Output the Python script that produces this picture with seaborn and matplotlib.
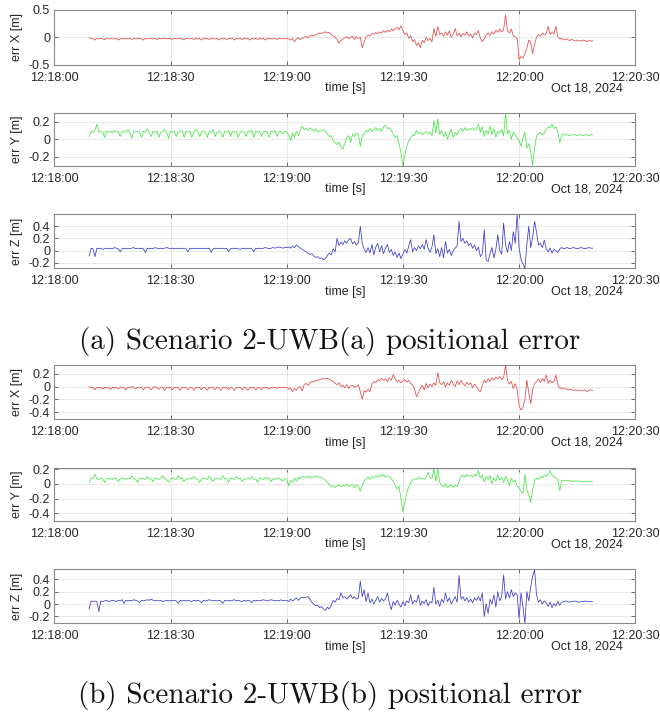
import numpy as np
import pandas as pd
import matplotlib
matplotlib.use("Agg")
import matplotlib.pyplot as plt
import matplotlib.dates as mdates
import seaborn as sns

# ---------------- data (sampled every 0.5 s, starting 12:18:09) ----------------
START = "2024-10-18 12:18:09"
STEP_S = 0.5

# Scenario 2-UWB(a)
err_x_a = [
    0.00,-0.02,-0.03,-0.05,-0.02,-0.03,-0.02,-0.03,-0.04,-0.02,-0.03,-0.02,-0.03,-0.03,-0.02,-0.05,-0.03,-0.02,-0.03,-0.02,
    -0.03,-0.02,-0.04,-0.02,-0.03,-0.02,-0.02,-0.03,-0.05,-0.02,-0.03,-0.02,-0.02,-0.03,-0.02,-0.04,-0.02,-0.03,-0.02,-0.02,
    -0.03,-0.02,-0.02,-0.04,-0.02,-0.03,-0.02,-0.02,-0.03,-0.05,-0.02,-0.03,-0.02,-0.02,-0.04,-0.02,-0.03,-0.02,-0.05,-0.02,
    -0.03,-0.02,-0.04,-0.02,-0.03,-0.03,-0.02,-0.05,-0.02,-0.03,-0.02,-0.04,-0.02,-0.03,-0.02,-0.05,-0.02,-0.03,-0.02,-0.04,
    -0.02,-0.03,-0.02,-0.05,-0.02,-0.03,-0.02,-0.04,-0.02,-0.03,-0.02,-0.05,-0.02,-0.03,-0.02,-0.03,-0.02,-0.04,-0.02,-0.03,
    -0.02,-0.03,
    -0.02,-0.03,-0.05,-0.02,-0.08,-0.03,-0.01,-0.04,-0.02,0.00,0.02,-0.01,0.03,0.04,0.02,0.05,0.06,0.08,0.07,0.09,
    0.10,0.08,0.09,0.05,0.03,0.00,-0.04,-0.11,-0.06,-0.03,-0.01,0.01,-0.03,0.00,0.02,-0.04,0.01,-0.02,0.00,-0.19,
    -0.08,0.01,0.04,0.02,0.07,0.05,0.09,0.06,0.10,0.08,0.12,0.09,0.13,0.10,0.15,0.12,0.16,0.18,0.14,0.21,
    0.12,0.05,0.08,-0.02,0.03,-0.08,-0.04,-0.15,-0.10,-0.19,-0.05,-0.10,0.00,-0.06,-0.02,-0.08,0.16,0.02,0.20,0.05,
    0.08,0.02,0.10,0.04,0.12,0.00,0.06,0.16,0.03,0.08,0.01,0.07,0.04,0.10,0.02,0.06,-0.01,0.08,0.05,0.12,
    -0.02,-0.08,-0.03,0.04,0.08,0.03,0.10,0.06,0.13,0.09,0.15,0.10,0.14,0.41,0.12,0.08,0.15,0.03,0.00,-0.02,
    -0.41,-0.35,-0.38,-0.30,-0.20,-0.05,-0.10,-0.30,-0.12,0.00,0.05,0.02,0.08,0.04,0.07,0.20,0.05,0.10,0.06,0.20,
    0.00,-0.03,-0.02,-0.05,-0.03,-0.04,-0.06,-0.04,-0.05,-0.07,-0.05,-0.06,-0.07,-0.05,-0.06,-0.08,-0.06,-0.07,-0.06,
]
err_y_a = [
    0.03,0.09,0.08,0.10,0.17,0.08,0.09,0.08,0.02,0.09,0.08,0.09,0.07,0.10,0.08,0.09,0.03,0.08,0.09,0.08,
    0.11,0.08,0.01,0.09,0.08,0.09,0.08,0.02,0.09,0.08,0.12,0.08,0.03,0.09,0.08,0.09,0.02,0.08,0.09,0.11,
    0.08,0.01,0.09,0.08,0.09,0.03,0.08,0.09,0.10,0.02,0.09,0.08,0.09,0.02,0.08,0.11,0.09,0.03,0.08,0.09,
    0.08,0.02,0.09,0.08,0.11,0.03,0.08,0.09,0.08,0.02,0.09,0.08,0.10,0.03,0.09,0.08,0.09,0.02,0.08,0.09,
    0.08,0.03,0.09,0.08,0.10,0.02,0.09,0.08,0.09,0.03,0.08,0.09,0.08,0.02,0.09,0.08,0.10,0.03,0.08,0.09,
    0.06,0.09,
    0.08,0.05,-0.02,0.07,0.02,0.09,0.04,0.10,0.15,0.11,0.12,0.10,0.13,0.11,0.09,0.12,0.08,0.10,0.09,0.11,
    0.09,0.06,0.03,0.04,-0.02,-0.04,-0.06,-0.03,-0.09,-0.11,-0.05,0.02,0.04,-0.04,0.06,0.03,0.07,0.05,-0.08,0.04,
    0.06,0.10,0.08,0.12,0.09,0.11,0.13,0.10,0.12,0.09,0.14,0.16,0.12,0.13,0.10,0.06,0.02,0.04,-0.05,-0.15,
    -0.30,-0.18,-0.08,-0.02,0.02,0.05,0.04,0.10,0.06,0.08,0.05,0.07,0.09,0.06,0.08,0.04,0.21,0.07,0.23,0.05,
    0.10,0.03,0.08,0.00,0.06,0.11,0.02,0.08,0.05,0.10,0.12,0.09,0.13,0.10,0.12,0.11,0.13,0.10,0.12,0.17,
    0.08,0.14,0.03,0.10,0.06,0.15,0.05,0.12,0.02,0.09,0.07,0.11,0.04,0.29,0.06,0.10,0.00,0.08,0.05,0.02,
    -0.02,-0.08,0.02,0.08,-0.10,-0.05,-0.15,-0.29,-0.10,0.04,0.06,0.08,0.05,0.07,0.11,0.14,0.13,0.17,0.12,0.14,
    0.08,-0.04,0.05,0.06,0.05,0.05,0.04,0.05,0.05,0.05,0.04,0.05,0.05,0.04,0.05,0.05,0.04,0.05,0.05,
]
err_z_a = [
    -0.09,0.04,0.03,-0.10,0.04,0.03,0.04,0.02,0.03,0.04,0.03,0.04,0.03,0.05,0.04,0.03,-0.02,0.03,0.04,0.03,
    0.04,0.03,0.04,0.05,0.03,0.04,0.03,0.04,0.03,-0.03,0.04,0.03,0.04,0.03,0.05,0.04,0.03,0.04,0.03,0.04,
    0.05,0.04,0.03,0.04,0.03,0.04,0.03,0.04,0.03,0.04,0.03,-0.02,0.04,0.03,0.04,0.03,0.04,0.03,0.04,0.03,
    0.04,0.03,0.04,-0.03,0.03,0.04,0.03,0.04,0.03,0.04,0.03,0.04,-0.02,0.03,0.04,0.03,0.04,0.03,0.02,0.04,
    0.03,0.04,0.03,0.04,0.03,-0.02,0.04,0.03,0.04,0.03,0.04,0.05,0.04,0.03,0.04,0.05,0.04,0.05,0.06,0.05,
    0.04,0.05,
    0.05,0.06,0.04,0.07,0.05,0.09,0.07,0.04,0.02,0.00,-0.02,-0.04,-0.06,-0.05,-0.09,-0.11,-0.10,-0.13,-0.12,-0.15,
    -0.13,-0.08,-0.04,-0.07,0.03,-0.02,0.20,0.08,0.14,0.10,0.16,0.12,0.18,0.20,0.11,0.15,0.09,0.13,0.40,0.12,
    0.02,-0.03,0.05,-0.04,0.10,-0.07,0.06,0.12,-0.02,0.08,-0.05,0.04,0.10,-0.03,0.02,-0.08,-0.02,-0.11,-0.04,-0.13,
    -0.06,0.02,-0.04,0.07,0.18,-0.02,0.05,0.00,0.08,0.03,0.10,0.02,0.18,0.04,-0.03,0.06,0.26,-0.05,0.03,-0.10,
    0.05,-0.12,0.15,-0.04,0.02,-0.08,0.00,0.04,0.08,0.48,0.15,0.20,0.12,0.16,0.08,0.12,0.04,0.09,0.00,0.06,
    -0.10,-0.05,0.34,-0.15,-0.18,-0.05,0.05,-0.12,0.02,0.26,0.00,-0.06,0.45,0.10,-0.03,0.15,0.00,0.31,0.12,0.60,
    0.05,-0.15,-0.22,-0.29,0.10,0.40,0.05,0.22,0.48,0.30,0.09,0.12,0.05,0.17,0.03,-0.02,0.04,-0.04,0.02,0.00,
    -0.03,0.03,0.05,0.03,0.04,0.05,0.03,0.04,0.05,0.04,0.03,0.04,0.05,0.04,0.03,0.04,0.05,0.04,0.04,
]

# Scenario 2-UWB(b)
err_x_b = [
    0.00,-0.02,-0.01,-0.05,-0.01,-0.02,-0.01,-0.04,-0.01,-0.02,-0.01,-0.05,-0.01,-0.02,-0.01,-0.04,-0.01,-0.01,-0.02,-0.05,
    -0.01,-0.02,0.00,-0.01,-0.04,-0.01,-0.02,-0.01,-0.05,-0.01,-0.01,-0.02,-0.05,-0.01,0.00,-0.02,-0.04,-0.01,-0.01,-0.06,
    -0.01,-0.02,-0.01,-0.05,-0.01,-0.02,-0.01,-0.06,-0.01,-0.02,-0.01,-0.05,-0.02,-0.01,-0.06,-0.01,-0.02,-0.01,-0.05,-0.01,
    -0.02,-0.06,-0.01,-0.02,-0.01,-0.05,-0.01,-0.02,-0.06,-0.01,-0.02,-0.01,-0.05,-0.01,-0.02,-0.06,-0.01,-0.02,-0.01,-0.05,
    -0.01,-0.02,-0.06,-0.01,-0.02,-0.01,-0.05,-0.01,-0.02,-0.05,-0.01,-0.02,-0.01,-0.04,-0.01,-0.02,-0.01,-0.03,-0.01,-0.02,
    -0.01,-0.02,
    -0.01,-0.04,-0.02,-0.08,-0.03,-0.06,-0.01,0.00,-0.07,0.03,0.05,0.02,0.06,0.08,0.07,0.10,0.09,0.11,0.12,0.13,
    0.12,0.13,0.12,0.10,0.08,0.05,0.03,0.06,0.00,0.02,-0.02,0.03,-0.03,0.01,0.02,-0.01,0.00,0.03,-0.08,-0.20,
    -0.06,-0.09,-0.04,-0.08,0.04,0.08,0.06,0.11,0.09,0.13,0.10,0.12,0.08,0.14,0.10,0.19,0.12,0.08,0.10,0.06,
    0.09,0.11,0.07,0.10,0.05,0.03,-0.04,-0.16,-0.10,-0.03,0.02,-0.05,0.05,-0.02,0.04,0.00,0.06,0.02,0.22,0.06,
    0.03,0.08,-0.01,0.06,0.02,0.10,0.04,0.00,0.09,0.03,0.10,0.05,0.01,0.07,0.03,0.06,-0.02,0.04,0.00,-0.05,
    -0.08,0.02,0.10,0.06,0.12,0.08,0.14,0.10,0.15,0.12,0.16,0.11,0.14,0.34,0.10,0.04,0.08,-0.03,0.05,-0.05,
    -0.30,-0.37,-0.33,-0.20,0.10,-0.10,-0.27,-0.05,0.05,0.08,0.12,0.06,0.13,0.08,0.18,0.05,0.10,0.06,0.08,0.18,
    0.03,-0.03,-0.02,-0.04,-0.03,-0.05,-0.04,-0.05,-0.06,-0.05,-0.06,-0.05,-0.07,-0.06,-0.05,-0.08,-0.06,-0.05,-0.06,
]
err_y_b = [
    0.02,0.08,0.07,0.13,0.07,0.06,0.08,0.07,0.02,0.07,0.08,0.07,0.06,0.08,0.07,0.03,0.07,0.08,0.07,0.06,
    0.08,0.07,0.11,0.07,0.06,0.02,0.07,0.08,0.07,0.06,0.10,0.07,0.07,0.03,0.08,0.07,0.06,0.08,0.11,0.07,
    0.06,0.02,0.07,0.08,0.07,0.06,0.11,0.07,0.08,0.03,0.07,0.06,0.08,0.07,0.10,0.07,0.06,0.02,0.07,0.08,
    0.07,0.06,0.10,0.07,0.03,0.07,0.08,0.07,0.06,0.11,0.07,0.07,0.02,0.08,0.07,0.06,0.10,0.07,0.08,0.03,
    0.07,0.06,0.08,0.07,0.10,0.06,0.07,0.02,0.08,0.07,0.06,0.09,0.07,0.08,0.03,0.07,0.06,0.08,0.07,0.06,
    0.04,0.07,
    0.07,-0.03,0.05,0.02,0.08,0.04,0.09,0.07,0.10,0.08,0.09,0.11,0.08,0.10,0.09,0.11,0.10,0.08,0.09,0.07,
    0.05,0.02,-0.01,-0.04,-0.02,-0.05,-0.03,-0.01,-0.04,-0.02,-0.03,0.00,-0.04,-0.02,-0.01,-0.05,-0.02,-0.03,-0.10,-0.02,
    0.04,0.07,0.09,0.06,0.10,0.08,0.11,0.09,0.12,0.10,0.13,0.09,0.11,0.10,0.07,0.04,-0.02,-0.07,-0.03,-0.20,
    -0.38,-0.25,-0.12,-0.04,0.02,0.05,0.07,0.06,0.09,0.07,0.08,0.06,0.09,0.16,0.08,0.07,0.20,0.04,0.20,0.02,
    -0.02,-0.04,0.00,-0.05,-0.03,-0.01,-0.05,-0.02,-0.04,0.03,0.10,0.12,0.09,0.13,0.10,0.12,0.09,0.13,0.11,0.18,
    0.08,0.12,0.03,0.10,0.06,0.11,0.00,0.08,0.04,0.12,0.05,0.09,0.02,0.10,0.06,-0.02,0.08,0.03,0.05,-0.03,
    -0.05,-0.10,-0.13,0.13,-0.08,-0.15,-0.25,-0.08,0.04,0.08,0.06,0.10,0.08,0.12,0.11,0.13,0.18,0.12,0.10,0.08,
    0.06,-0.09,0.04,0.05,0.04,0.05,0.04,0.04,0.03,0.04,0.04,0.03,0.04,0.03,0.03,0.04,0.03,0.03,0.03,
]
err_z_b = [
    -0.08,0.05,0.04,0.05,0.04,-0.12,0.05,0.04,0.05,0.06,0.04,0.05,0.06,0.05,0.04,0.06,0.05,0.07,0.01,0.06,
    0.05,0.06,0.05,0.07,0.06,0.05,0.02,0.06,0.05,0.06,0.07,0.06,0.08,0.06,0.05,0.06,0.05,0.06,0.04,0.05,
    0.06,0.05,0.06,0.05,0.06,0.05,0.01,0.06,0.05,0.06,0.05,0.06,0.05,0.04,0.06,0.05,0.06,0.05,0.02,0.06,
    0.05,0.06,0.07,0.06,0.05,0.06,0.05,0.06,0.05,0.01,0.06,0.05,0.06,0.05,0.06,0.07,0.05,0.06,0.05,0.04,
    0.06,0.05,0.06,0.05,0.02,0.06,0.05,0.06,0.05,0.06,0.07,0.06,0.05,0.06,0.07,0.06,0.05,0.06,0.05,0.07,
    0.05,0.06,
    0.06,0.04,0.08,0.05,0.07,0.10,0.06,0.09,0.11,0.10,0.11,0.12,0.08,0.03,0.00,-0.03,-0.02,-0.06,-0.04,-0.08,
    -0.10,-0.05,-0.08,-0.02,0.06,0.03,0.09,0.07,0.18,0.10,0.12,0.08,0.11,0.15,0.09,0.12,0.08,0.10,0.37,0.12,
    0.23,0.04,0.18,0.02,0.08,0.00,0.06,0.12,0.03,0.09,0.05,0.08,0.18,0.02,-0.09,0.04,-0.02,0.06,0.00,-0.05,
    0.04,-0.03,0.05,0.02,0.15,0.00,0.06,0.03,0.15,-0.02,0.05,0.01,0.07,-0.03,0.04,0.02,0.27,0.00,0.06,-0.04,
    0.08,0.02,0.18,0.04,0.10,0.00,0.06,0.12,0.03,0.46,0.08,0.12,0.05,0.10,0.03,0.08,0.02,0.10,0.06,0.12,
    0.05,0.18,-0.20,0.00,-0.15,0.08,0.00,0.15,-0.05,0.20,0.05,0.12,0.47,0.08,0.20,0.10,0.23,0.12,0.18,0.15,
    -0.23,0.18,-0.05,-0.31,0.20,0.05,0.28,0.45,0.55,0.15,0.03,0.07,0.00,0.05,0.02,-0.04,0.03,-0.06,0.01,-0.03,
    0.04,-0.02,0.03,0.04,0.05,0.04,0.03,0.04,0.04,0.05,0.04,0.03,0.04,0.04,0.05,0.04,0.04,0.04,0.04,
]

y_labels = ["err X [m]", "err Y [m]", "err Z [m]"]
x_tick_times = ["12:18:00", "12:18:30", "12:19:00", "12:19:30", "12:20:00", "12:20:30"]
date_label = "Oct 18, 2024"
x_label = "time [s]"
captions = ["(a) Scenario 2-UWB(a) positional error",
            "(b) Scenario 2-UWB(b) positional error"]

series = [err_x_a, err_y_a, err_z_a, err_x_b, err_y_b, err_z_b]
ylims = [(-0.5, 0.5), (-0.3, 0.3), (-0.29, 0.60), (-0.51, 0.34), (-0.5, 0.22), (-0.31, 0.56)]
yticks = [[-0.5, 0, 0.5], [-0.2, 0, 0.2], [-0.2, 0, 0.2, 0.4],
          [-0.4, -0.2, 0, 0.2], [-0.4, -0.2, 0, 0.2], [-0.2, 0, 0.2, 0.4]]
colors = ["#e04848", "#44e444", "#3a3ac8"] * 2
# axes boxes in pixels (top, bottom)
boxes_px = [(10, 64.6), (112.7, 165.7), (214, 268.3),
            (365, 419), (467.7, 520.7), (569.3, 623.3)]

# ---------------- figure ----------------
sns.set_theme(style="white")
plt.rcParams["font.family"] = ["Liberation Sans", "DejaVu Sans"]
W, H = 660, 713
fig = plt.figure(figsize=(W / 100, H / 100), dpi=100)
fig.patch.set_facecolor("white")

left_px, right_px = 54.3, 635.3
day = "2024-10-18 "
xmin = pd.Timestamp(day + x_tick_times[0])
xmax = pd.Timestamp(day + x_tick_times[-1])
text_col = "#262626"

def fmt_tick(v):
    if abs(v) < 1e-9:
        return "0"
    return f"{v:g}"

for i, (vals, lim, ticks, col, (top, bot)) in enumerate(zip(series, ylims, yticks, colors, boxes_px)):
    ax = fig.add_axes([left_px / W, 1 - bot / H, (right_px - left_px) / W, (bot - top) / H])
    t = pd.Timestamp(START) + pd.to_timedelta(STEP_S * np.arange(len(vals)), unit="s")
    df = pd.DataFrame({"time": t, "err": vals})
    sns.lineplot(data=df, x="time", y="err", ax=ax, color=col, linewidth=0.55,
                 estimator=None, sort=False)
    ax.set_xlim(xmin, xmax)
    ax.set_ylim(*lim)
    ax.set_xticks([pd.Timestamp(day + s) for s in x_tick_times])
    ax.xaxis.set_major_formatter(mdates.DateFormatter("%H:%M:%S"))
    ax.set_yticks(ticks)
    ax.set_yticklabels([fmt_tick(v) for v in ticks])
    ax.grid(True, color="#e4e4e4", linewidth=0.6)
    ax.set_axisbelow(True)
    for sp in ax.spines.values():
        sp.set_visible(True)
        sp.set_color("#8a8a8a")
        sp.set_linewidth(0.8)
    ax.tick_params(axis="both", which="major", direction="in", length=3, width=0.6,
                   color="#555555", labelsize=9, labelcolor=text_col,
                   top=True, right=True, bottom=True, left=True)
    ax.tick_params(axis="x", pad=5)
    ax.tick_params(axis="y", pad=3)
    ax.set_xlabel("")
    ax.set_ylabel("")
    ax.annotate(x_label, xy=(0.5, 0), xycoords="axes fraction", xytext=(0, -17),
                textcoords="offset points", ha="center", va="center",
                fontsize=9, color=text_col)
    ax.annotate(date_label, xy=(1, 0), xycoords="axes fraction", xytext=(-9, -17),
                textcoords="offset points", ha="right", va="center",
                fontsize=9, color=text_col)
    ax.annotate(y_labels[i % 3], xy=(0, 0.5), xycoords="axes fraction", xytext=(-26.5, 0),
                textcoords="offset points", ha="center", va="center", rotation=90,
                fontsize=9, color=text_col)

for cap, ypx in zip(captions, [341, 695]):
    fig.text(0.5, 1 - ypx / H, cap, ha="center", va="center",
             fontsize=21, family="cmr10", color="#111111")

fig.savefig("out.png", dpi=100, facecolor="white")
